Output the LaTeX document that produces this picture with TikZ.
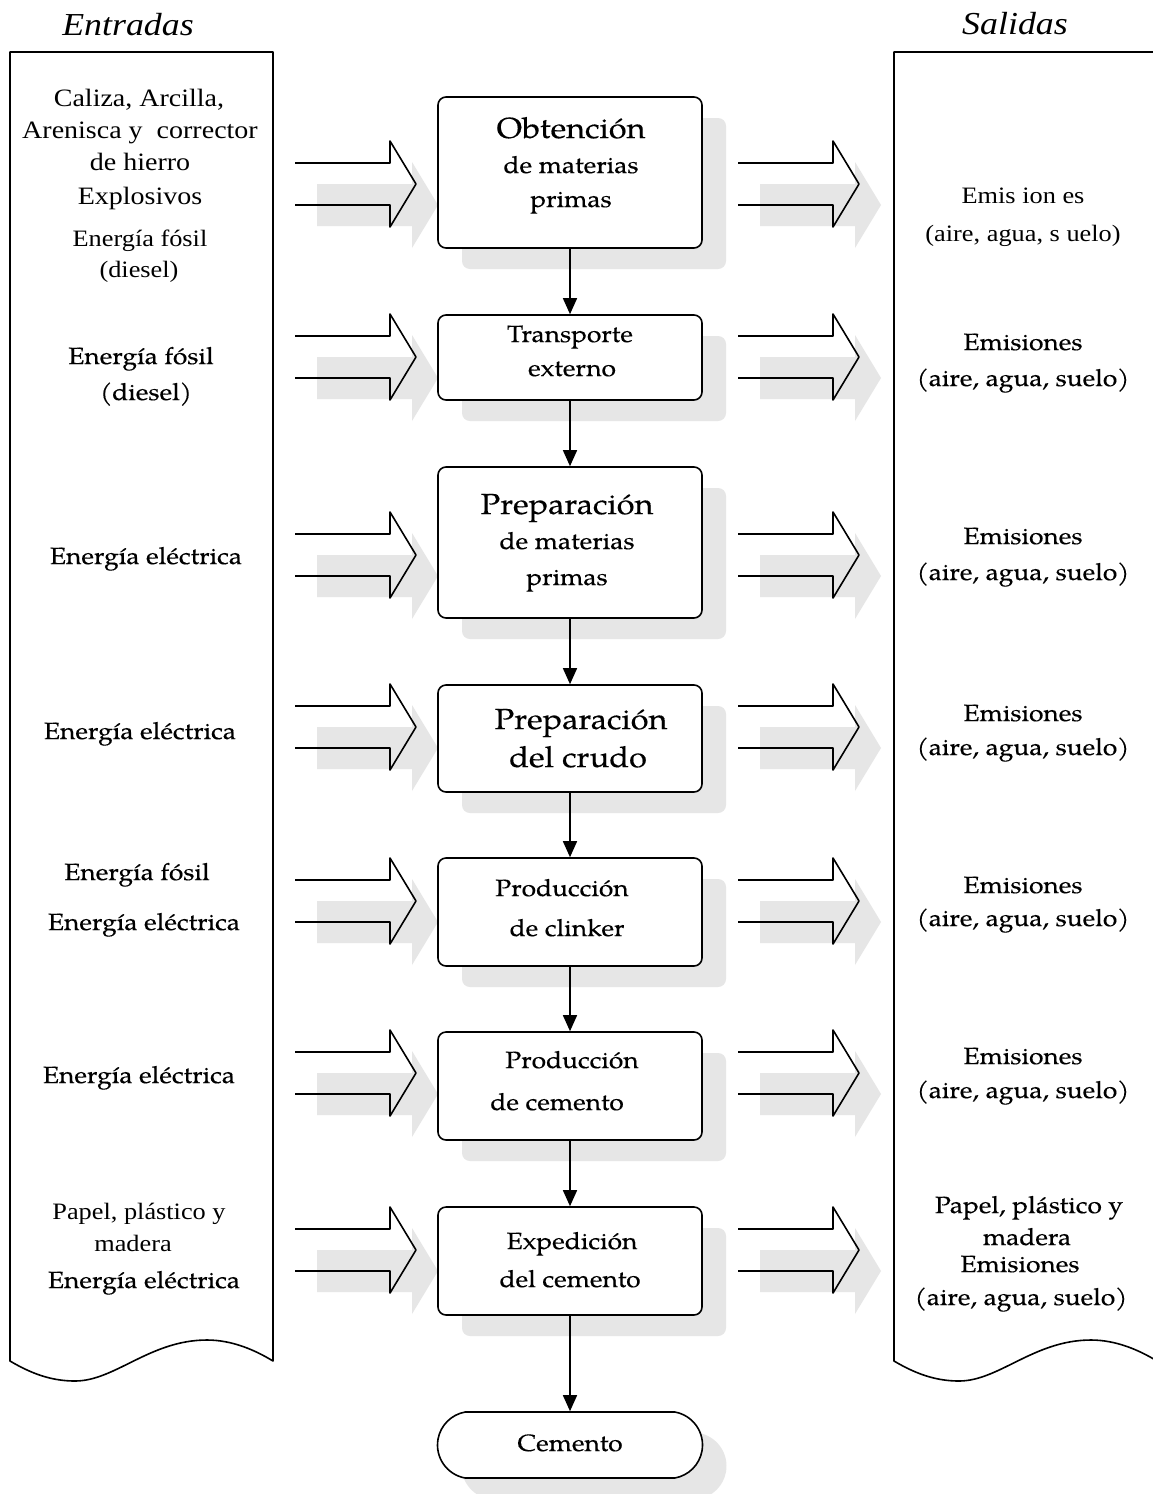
\documentclass[tikz,border=0pt]{standalone}
\usepackage{fontspec}
\setmainfont{Liberation Serif}
\newfontfamily\pala[FakeBold=0.3]{TeX Gyre Pagella}
\usetikzlibrary{arrows.meta,shadows,shapes.misc}

\definecolor{shadowgray}{HTML}{E6E6E6}

\begin{document}
\begin{tikzpicture}[x=1pt,y=-1pt,
  outline/.style={draw=black, line width=1.6pt, line join=round},
  boxshadow/.style={drop shadow={shadow xshift=24pt, shadow yshift=-21pt, fill=shadowgray, opacity=1, draw=none}},
  procbox/.style={outline, fill=white, rounded corners=8pt, minimum width=264pt, inner sep=0pt, boxshadow},
  endbox/.style={outline, fill=white, rounded rectangle, rounded rectangle arc length=160,
    minimum width=265pt, minimum height=66pt, inner sep=0pt, boxshadow},
  flow/.style={line width=1.5pt, -{Triangle[width=14pt,length=16pt]}},
  txt/.style={inner sep=0pt, anchor=base, xscale=1.12},
  pal/.style={txt, font=\pala\fontsize{23.5}{28}\selectfont},
  palbig/.style={txt, font=\pala\fontsize{29}{34}\selectfont},
  tms/.style={txt, font=\fontsize{25}{29}\selectfont},
  tmss/.style={txt, font=\fontsize{23.5}{27}\selectfont},
  hdr/.style={txt, font=\itshape\fontsize{32}{36}\selectfont},
  blockarr/.pic={
    \fill[shadowgray] (22,0) -- (22,42) -- (117,42) -- (117,64) -- (143,21) -- (117,-22) -- (117,0) -- cycle;
    \draw[outline] (0,-21) -- (95,-21) -- (95,-43) -- (121,0) -- (95,43) -- (95,21) -- (0,21);
  }
]
\useasboundingbox (0,0) rectangle (1153,1494);
\fill[white] (0,0) rectangle (1153,1494);

% input and output sheets
\draw[outline, fill=white] (10,1361) -- (10,52) -- (273,52) -- (273,1361)
  .. controls (255,1350) and (232,1340) .. (207,1340)
  .. controls (150,1340) and (115,1381) .. (75,1381)
  .. controls (52,1381) and (32,1374) .. (10,1361) -- cycle;
\draw[outline, fill=white] (894,1361) -- (894,52) -- (1157,52) -- (1157,1361)
  .. controls (1139,1350) and (1116,1340) .. (1091,1340)
  .. controls (1034,1340) and (999,1381) .. (959,1381)
  .. controls (936,1381) and (916,1374) .. (894,1361) -- cycle;

% block arrows into and out of each stage
\foreach \cy in {184,357,555,727,901,1073,1250} {
  \pic at (295,\cy) {blockarr};
  \pic at (738,\cy) {blockarr};
}

% process stages
\node[procbox, minimum height=151pt] (b1) at (570,172.5) {};
\node[procbox, minimum height=85pt]  (b2) at (570,357.5) {};
\node[procbox, minimum height=151pt] (b3) at (570,542.5) {};
\node[procbox, minimum height=107pt] (b4) at (570,738.5) {};
\node[procbox, minimum height=108pt] (b5) at (570,912) {};
\node[procbox, minimum height=108pt] (b6) at (570,1086) {};
\node[procbox, minimum height=108pt] (b7) at (570,1261) {};
\node[endbox] (b8) at (570,1445) {};

\draw[flow] (b1.south) -- (b2.north);
\draw[flow] (b2.south) -- (b3.north);
\draw[flow] (b3.south) -- (b4.north);
\draw[flow] (b4.south) -- (b5.north);
\draw[flow] (b5.south) -- (b6.north);
\draw[flow] (b6.south) -- (b7.north);
\draw[flow] (b7.south) -- (b8.north);

% headings
\node[hdr] (hin)  at (128,35) {Entradas};
\node[hdr] (hout) at (1015,34) {Salidas};

% stage labels
\node[palbig] (t1a) at (571,138) {Obtención};
\node[pal]    (t1b) at (571,173) {de materias};
\node[pal]    (t1c) at (571,207) {primas};
\node[pal]    (t2a) at (570,342) {Transporte};
\node[pal]    (t2b) at (572,376) {externo};
\node[palbig] (t3a) at (567,514) {Preparación};
\node[pal]    (t3b) at (567,549) {de materias};
\node[pal]    (t3c) at (567,585) {primas};
\node[palbig] (t4a) at (581,729) {Preparación};
\node[palbig] (t4b) at (578,767) {del crudo};
\node[pal]    (t5a) at (562,896) {Producción};
\node[pal]    (t5b) at (567,936) {de clinker};
\node[pal]    (t6a) at (572,1068) {Producción};
\node[pal]    (t6b) at (557,1110) {de cemento};
\node[pal]    (t7a) at (572,1249) {Expedición};
\node[pal]    (t7b) at (570,1287) {del cemento};
\node[pal]    (t8)  at (570,1451) {Cemento};

% inputs
\node[tms]  (i1a) at (139,106) {Caliza, Arcilla,};
\node[tms]  (i1b) at (140,138) {Arenisca y\ \ corrector};
\node[tms]  (i1c) at (140,170) {de hierro};
\node[tms]  (i1d) at (140,204) {Explosivos};
\node[tmss] (i1e) at (140,246) {Energía fósil};
\node[tmss] (i1f) at (139,277) {(diesel)};
\node[pal]  (i2a) at (141,364) {Energía fósil};
\node[pal]  (i2b) at (146,400) {(diesel)};
\node[pal]  (i3)  at (146,564) {Energía eléctrica};
\node[pal]  (i4)  at (140,739) {Energía eléctrica};
\node[pal]  (i5a) at (137,880) {Energía fósil};
\node[pal]  (i5b) at (144,930) {Energía eléctrica};
\node[pal]  (i6)  at (139,1083) {Energía eléctrica};
\node[tmss] (i7a) at (139,1219) {Papel, plástico y};
\node[tmss] (i7b) at (133,1251) {madera};
\node[pal]  (i7c) at (144,1288) {Energía eléctrica};

% outputs
\node[tmss] (o1a) at (1023,203) {Emis ion es};
\node[tmss] (o1b) at (1023,241) {(aire, agua, s uelo)};
\node[pal]  (o2a) at (1023,350) {Emisiones};
\node[pal]  (o2b) at (1023,386) {(aire, agua, suelo)};
\node[pal]  (o3a) at (1023,544) {Emisiones};
\node[pal]  (o3b) at (1023,580) {(aire, agua, suelo)};
\node[pal]  (o4a) at (1023,721) {Emisiones};
\node[pal]  (o4b) at (1023,755) {(aire, agua, suelo)};
\node[pal]  (o5a) at (1023,893) {Emisiones};
\node[pal]  (o5b) at (1023,926) {(aire, agua, suelo)};
\node[pal]  (o6a) at (1023,1064) {Emisiones};
\node[pal]  (o6b) at (1023,1098) {(aire, agua, suelo)};
\node[pal]  (o7a) at (1029,1213) {Papel, plástico y};
\node[pal]  (o7b) at (1027,1245) {madera};
\node[pal]  (o7c) at (1020,1272) {Emisiones};
\node[pal]  (o7d) at (1021,1305) {(aire, agua, suelo)};
\end{tikzpicture}
\end{document}
